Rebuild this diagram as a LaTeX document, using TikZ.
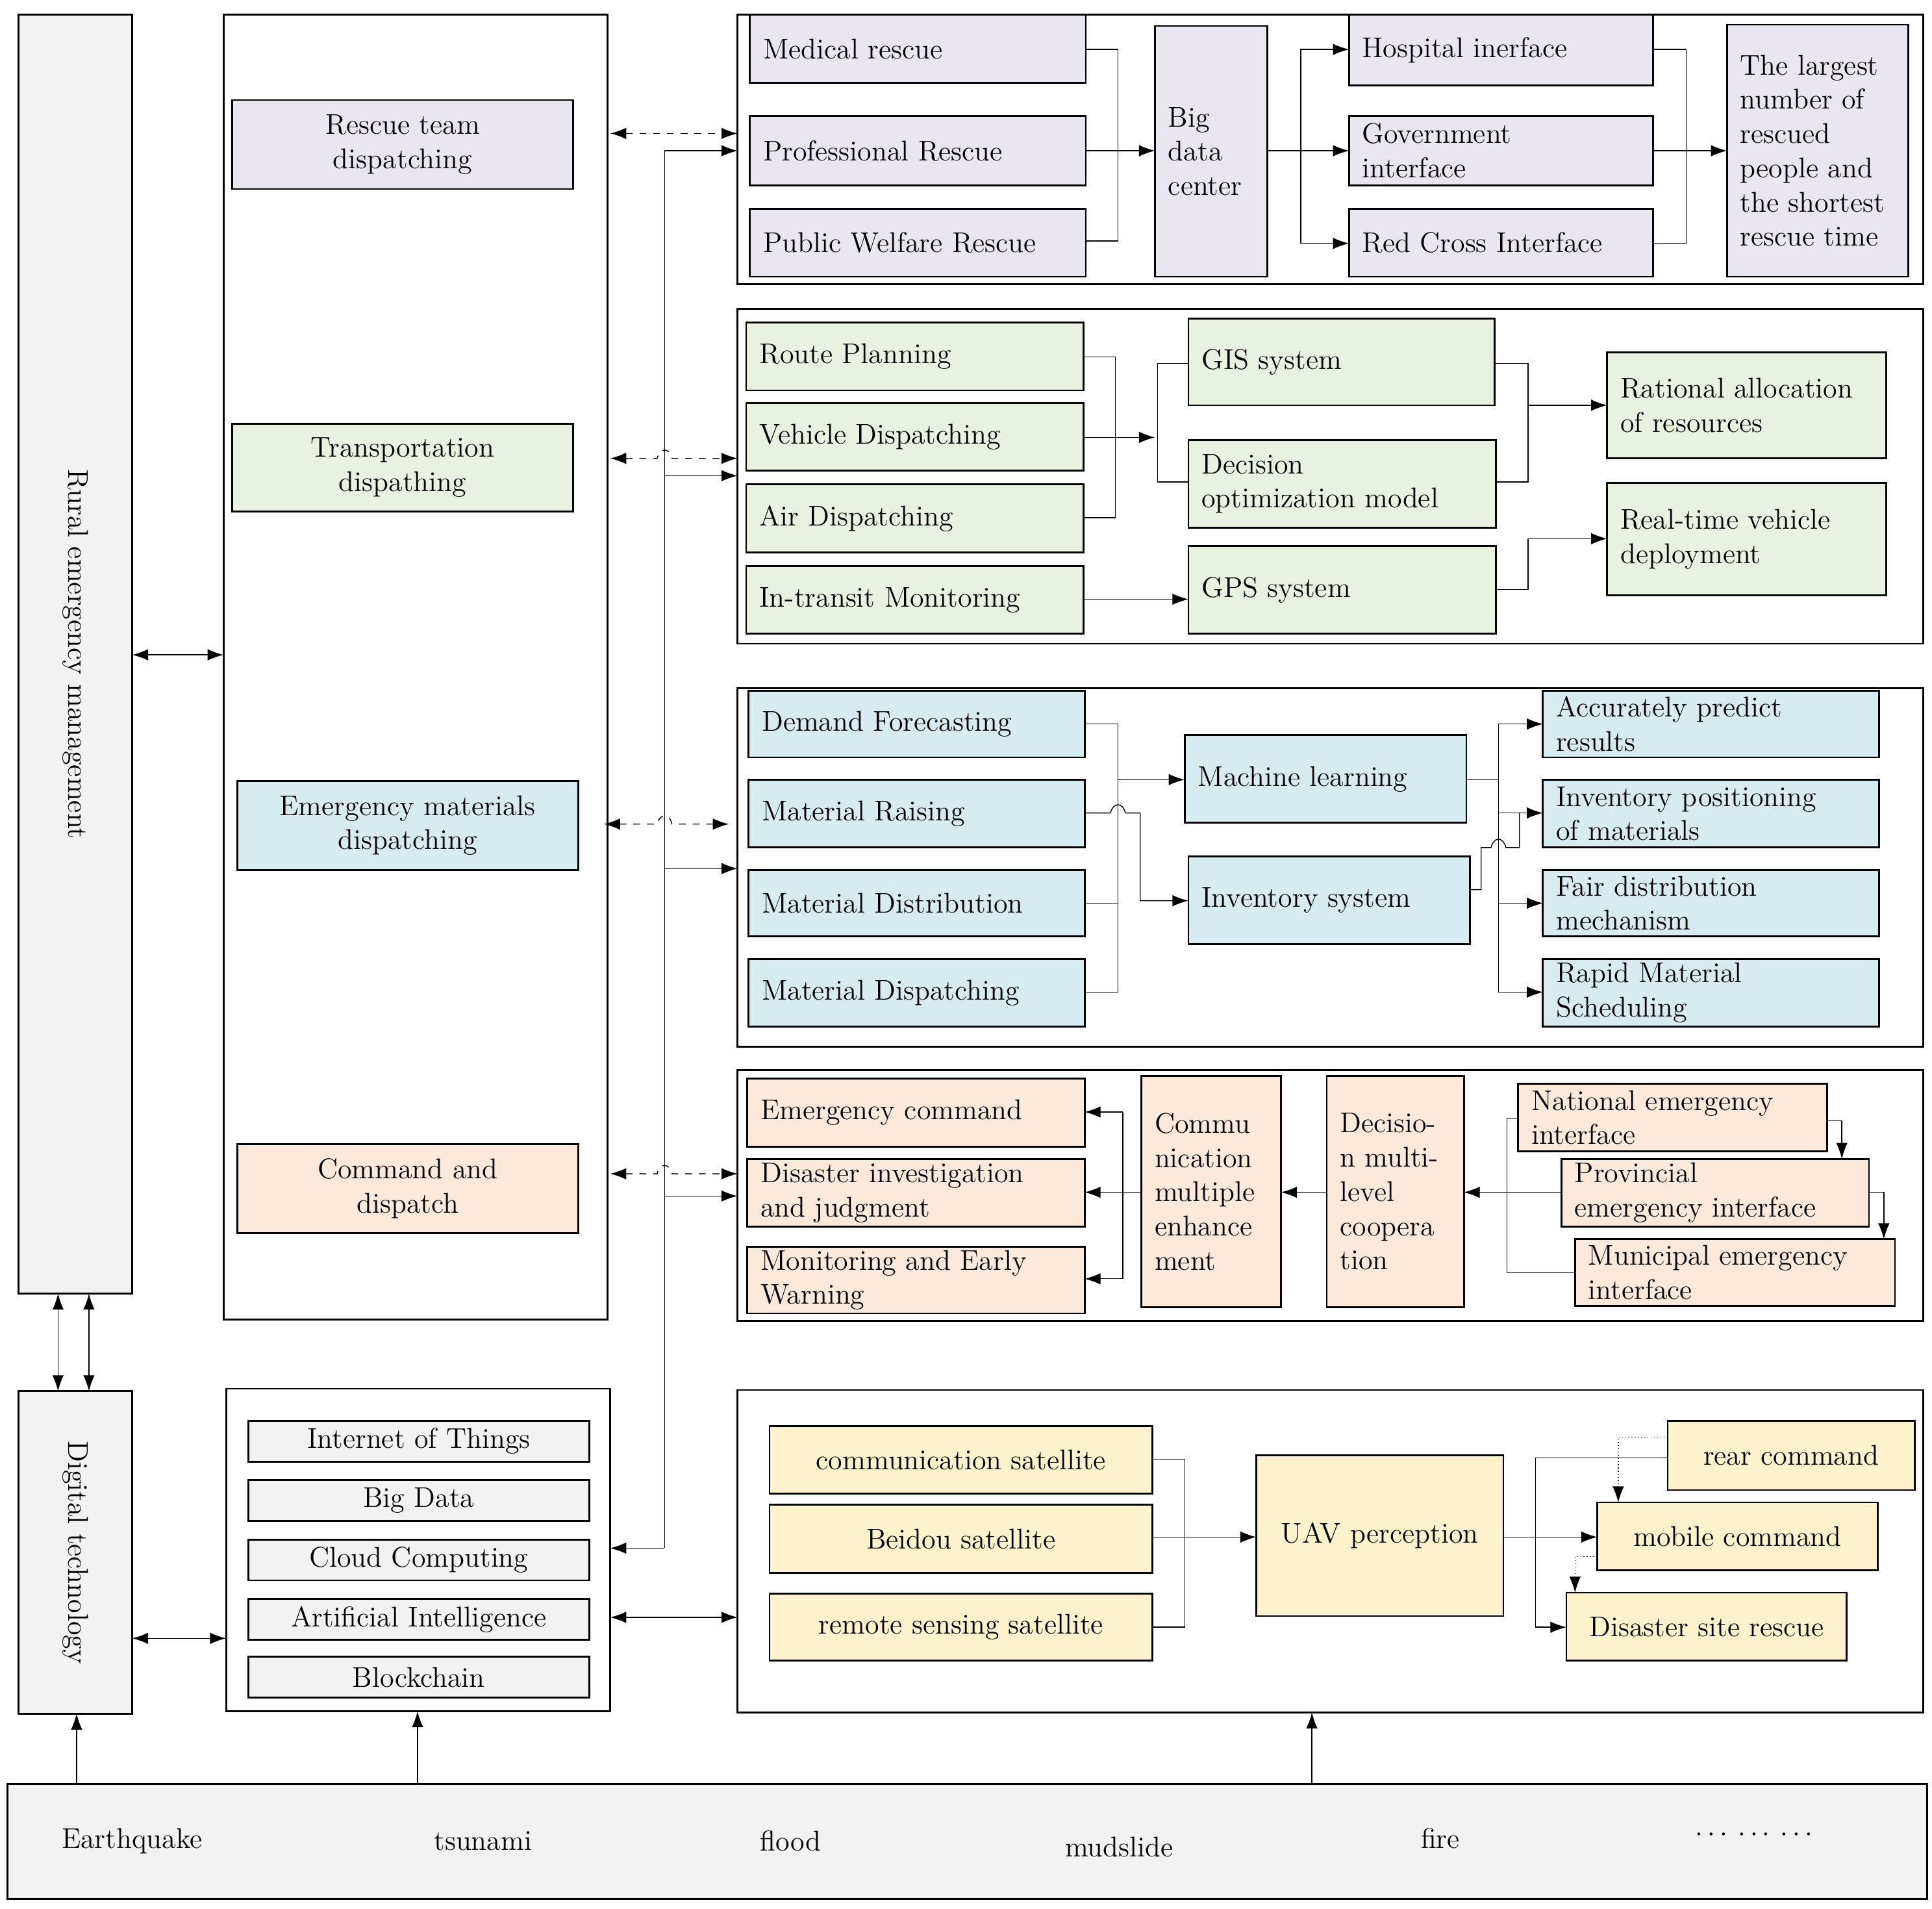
\documentclass[tikz,border=0pt]{standalone}
\usetikzlibrary{fit,arrows.meta}
\definecolor{cLav}{HTML}{EAE6EF}
\definecolor{cGrn}{HTML}{E9F1E1}
\definecolor{cBlu}{HTML}{D6ECF0}
\definecolor{cOra}{HTML}{FCE9DA}
\definecolor{cYel}{HTML}{FEF2CD}
\definecolor{cGry}{HTML}{F2F2F2}
\newcommand\bxl[5]{\node[bx,fill=#4,fit={#2 #3}] (#1) {};
\node[txt,anchor=west,align=left] (#1t) at ([xshift=6pt]#1.west) {#5};}
\newcommand\bxc[5]{\node[bx,fill=#4,fit={#2 #3}] (#1) {};
\node[txt,align=center] (#1t) at (#1.center) {#5};}
\begin{document}
\begin{tikzpicture}[x=0.01902cm,y=-0.01902cm,
 bx/.style={draw,thick,inner sep=0pt},
 txt/.style={inner sep=0pt,font=\fontsize{12.5}{15}\selectfont},
 >={Latex[length=7pt,width=5pt]},
 ln/.style={thin},
 da/.style={thin,dashed,<->},
 do/.style={thin,densely dotted,->}]
\useasboundingbox (0,0) rectangle (1564,1545);
% left column
\node[bx,fill=cGry,fit={(15,12)(107,1047)}] (rur) {};
\node[txt,rotate=-90] (rurt) at (rur.center) {Rural emergency management};
\node[bx,fill=cGry,fit={(15,1126)(107,1387)}] (dig) {};
\node[txt,rotate=-90] (digt) at (dig.center) {Digital technology};
\node[bx,fill=cGry,fit={(6,1444)(1560,1537)}] (bot) {};
\node[txt] (e1) at (107,1490) {Earthquake};
\node[txt] (e2) at (391,1490) {tsunami};
\node[txt] (e3) at (640,1490) {flood};
\node[txt] (e4) at (906,1495) {mudslide};
\node[txt] (e5) at (1166,1488) {fire};
\node[txt,font=\bfseries\fontsize{12.5}{15}\selectfont] (e6) at (1420,1485) {$\cdots$ $\cdots$ $\cdots$};
% middle
\node[bx,fit={(181,12)(492,1068)}] (mid) {};
\bxc{m1}{(188,81)}{(464,153)}{cLav}{Rescue team\\dispatching}
\bxc{m2}{(188,343)}{(464,414)}{cGrn}{Transportation\\dispathing}
\bxc{m3}{(192,632)}{(468,704)}{cBlu}{Emergency materials\\dispatching}
\bxc{m4}{(192,926)}{(468,998)}{cOra}{Command and\\dispatch}
\node[bx,fit={(183,1124)(494,1385)}] (tec) {};
\bxc{t1}{(201,1150)}{(477,1183)}{cGry}{Internet of Things}
\bxc{t2}{(201,1198)}{(477,1231)}{cGry}{Big Data}
\bxc{t3}{(201,1246)}{(477,1279)}{cGry}{Cloud Computing}
\bxc{t4}{(201,1294)}{(477,1327)}{cGry}{Artificial Intelligence}
\bxc{t5}{(201,1341)}{(477,1374)}{cGry}{Blockchain}
% panels
\node[bx,fit={(597,12)(1557,230)}] (p1) {};
\node[bx,fit={(597,250)(1557,521)}] (p2) {};
\node[bx,fit={(597,557)(1557,847)}] (p3) {};
\node[bx,fit={(597,866)(1557,1069)}] (p4) {};
\node[bx,fit={(597,1125)(1557,1386)}] (p5) {};
% left-side connectors
\draw[<->] (107,530) -- (181,530);
\draw[<->] (107,1326) -- (183,1326);
\draw[<->] (47,1047) -- (47,1126);
\draw[<->] (72,1047) -- (72,1126);
\draw[->] (62,1444) -- (62,1387);
\draw[->] (338,1444) -- (338,1385);
\draw[->] (1062,1444) -- (1062,1386);
\draw[ln] (538,122) -- (538,1253);
\draw[->] (538,122) -- (597,122);
\draw[->] (538,385) -- (597,385);
\draw[->] (538,703) -- (597,703);
\draw[->] (538,968) -- (597,968);
\draw[->] (538,1253) -- (494,1253);
\draw[<->] (494,1309) -- (597,1309);
\draw[da] (494,108) -- (597,108);
\draw[da] (494,371) -- (532,371) .. controls (534,362) and (542,362) .. (544,371) -- (597,371);
\draw[da] (489,667) -- (532,667) .. controls (534,658) and (542,658) .. (544,667) -- (590,667);
\draw[da] (494,950) -- (532,950) .. controls (534,941) and (542,941) .. (544,950) -- (597,950);
% P1
\bxl{a1}{(607,12)}{(879,67)}{cLav}{Medical rescue}
\bxl{a2}{(607,94)}{(879,150)}{cLav}{Professional Rescue}
\bxl{a3}{(607,169)}{(879,224)}{cLav}{Public Welfare Rescue}
\bxl{bd}{(935,21)}{(1026,224)}{cLav}{Big\\data\\center}
\bxl{a4}{(1092,12)}{(1338,69)}{cLav}{Hospital inerface}
\bxl{a5}{(1092,94)}{(1338,150)}{cLav}{Government\\interface}
\bxl{a6}{(1092,169)}{(1338,224)}{cLav}{Red Cross Interface}
\bxl{a7}{(1398,20)}{(1545,224)}{cLav}{The largest\\number of\\rescued\\people and\\the shortest\\rescue time}
\draw[ln] (879,40) -| (905,195) -- (879,195);
\draw[->] (879,122) -- (935,122);
\draw[ln] (1026,122) -- (1053,122);
\draw[->] (1053,197) |- (1092,40);
\draw[->] (1053,122) -- (1092,122);
\draw[->] (1053,197) -- (1092,197);
\draw[ln] (1338,40) -| (1365,197) -- (1338,197);
\draw[->] (1338,122) -- (1398,122);
% P2
\bxl{b1}{(604,261)}{(877,316)}{cGrn}{Route Planning}
\bxl{b2}{(604,326)}{(877,381)}{cGrn}{Vehicle Dispatching}
\bxl{b3}{(604,392)}{(877,447)}{cGrn}{Air Dispatching}
\bxl{b4}{(604,458)}{(877,513)}{cGrn}{In-transit Monitoring}
\bxl{b5}{(962,258)}{(1210,328)}{cGrn}{GIS system}
\bxl{b6}{(962,356)}{(1211,427)}{cGrn}{Decision\\optimization model}
\bxl{b7}{(962,442)}{(1211,513)}{cGrn}{GPS system}
\bxl{b8}{(1301,285)}{(1527,371)}{cGrn}{Rational allocation\\of resources}
\bxl{b9}{(1301,391)}{(1527,482)}{cGrn}{Real-time vehicle\\deployment}
\draw[ln] (877,289) -| (903,419) -- (877,419);
\draw[->] (877,354) -- (935,354);
\draw[ln] (962,294) -| (937,390) -- (962,390);
\draw[->] (877,485) -- (962,485);
\draw[ln] (1210,294) -| (1237,390) -- (1211,390);
\draw[->] (1237,328) -- (1301,328);
\draw[->] (1211,477) -| (1237,436) -- (1301,436);
% P3
\bxl{c1}{(606,559)}{(878,613)}{cBlu}{Demand Forecasting}
\bxl{c2}{(606,631)}{(878,686)}{cBlu}{Material Raising}
\bxl{c3}{(606,704)}{(878,758)}{cBlu}{Material Distribution}
\bxl{c4}{(606,776)}{(878,831)}{cBlu}{Material Dispatching}
\bxl{c5}{(959,595)}{(1187,666)}{cBlu}{Machine learning}
\bxl{c6}{(962,693)}{(1190,764)}{cBlu}{Inventory system}
\bxl{c7}{(1249,559)}{(1521,613)}{cBlu}{Accurately predict\\results}
\bxl{c8}{(1249,631)}{(1521,686)}{cBlu}{Inventory positioning\\of materials}
\bxl{c9}{(1249,704)}{(1521,758)}{cBlu}{Fair distribution\\mechanism}
\bxl{c10}{(1249,776)}{(1521,831)}{cBlu}{Rapid Material\\Scheduling}
\draw[ln] (878,586) -| (905,803) -- (878,803);
\draw[ln] (878,731) -- (905,731);
\draw[->] (905,631) -- (959,631);
\draw[->] (878,658) -- (899,658) .. controls (901,649) and (909,649) .. (911,658) -- (923,658) |- (962,729);
\draw[ln] (1187,631) -- (1213,631);
\draw[->] (1213,803) |- (1249,586);
\draw[->] (1213,658) -- (1249,658);
\draw[->] (1213,731) -- (1249,731);
\draw[->] (1213,803) -- (1249,803);
\draw[ln] (1190,720) -- (1199,720) -- (1199,686) -- (1207,686) .. controls (1209,677) and (1217,677) .. (1219,686) -- (1230,686) -- (1230,658);
% P4
\bxl{d1}{(605,873)}{(878,928)}{cOra}{Emergency command}
\bxl{d2}{(605,938)}{(878,993)}{cOra}{Disaster investigation\\and judgment}
\bxl{d3}{(605,1009)}{(878,1063)}{cOra}{Monitoring and Early\\Warning}
\bxl{d4}{(924,871)}{(1037,1058)}{cOra}{Commu\\nication\\multiple\\enhance\\ment}
\bxl{d5}{(1074,871)}{(1185,1058)}{cOra}{Decisio-\\n multi-\\level\\coopera\\tion}
\bxl{d6}{(1229,877)}{(1479,932)}{cOra}{National emergency\\interface}
\bxl{d7}{(1264,938)}{(1513,993)}{cOra}{Provincial\\emergency interface}
\bxl{d8}{(1275,1003)}{(1534,1057)}{cOra}{Municipal emergency\\interface}
\draw[ln] (1229,905) -| (1220,1030) -- (1275,1030);
\draw[->] (1264,965) -- (1185,965);
\draw[->] (1479,907) -| (1491,938);
\draw[->] (1513,965) -| (1525,1003);
\draw[->] (1074,965) -- (1037,965);
\draw[ln] (924,965) -- (909,965);
\draw[->] (909,900) -- (878,900);
\draw[->] (909,965) -- (878,965);
\draw[->] (909,900) -- (909,1035) -- (878,1035);
% P5
\bxc{f1}{(623,1154)}{(933,1209)}{cYel}{communication satellite}
\bxc{f2}{(623,1218)}{(933,1273)}{cYel}{Beidou satellite}
\bxc{f3}{(623,1290)}{(933,1344)}{cYel}{remote sensing satellite}
\bxc{f4}{(1017,1178)}{(1217,1308)}{cYel}{UAV perception}
\bxc{f5}{(1350,1150)}{(1550,1206)}{cYel}{rear command}
\bxc{f6}{(1293,1216)}{(1520,1271)}{cYel}{mobile command}
\bxc{f7}{(1268,1289)}{(1495,1344)}{cYel}{Disaster site rescue}
\draw[ln] (933,1181) -| (959,1317) -- (933,1317);
\draw[->] (933,1244) -- (1017,1244);
\draw[->] (1217,1244) -- (1293,1244);
\draw[ln] (1350,1180) -- (1243,1180) -- (1243,1317);
\draw[->] (1243,1317) -- (1268,1317);
\draw[do] (1350,1163) -| (1310,1216);
\draw[do] (1293,1260) -| (1275,1289);
\end{tikzpicture}
\end{document}
